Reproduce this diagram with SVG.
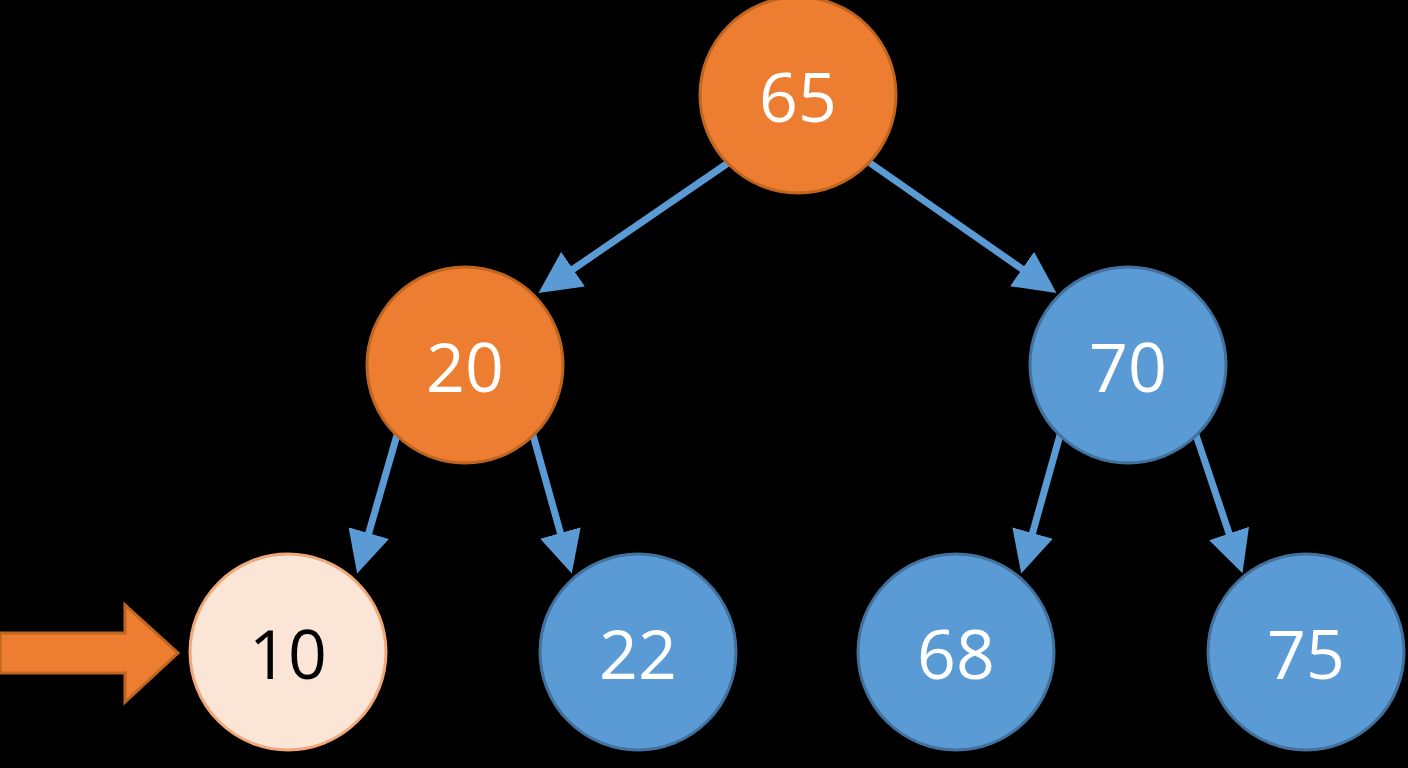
<svg xmlns="http://www.w3.org/2000/svg" width="1408" height="768" viewBox="0 0 1408 768">
<style>
.o{fill:#ED7D31;stroke:#C0651F;stroke-width:3}
.b{fill:#5B9BD5;stroke:#41719C;stroke-width:3}
.l{fill:#FBE5D6;stroke:#F0A878;stroke-width:3}
text{font-family:"Open Sans","Liberation Sans",sans-serif;font-size:68px;text-anchor:middle;dominant-baseline:central;fill:#fff}
.dk{fill:#000}
.e{stroke:#5B9BD5;stroke-width:7;fill:none;marker-end:url(#ah)}
</style>
<defs><marker id="ah" markerWidth="6" markerHeight="6" refX="4" refY="3" orient="auto" markerUnits="strokeWidth"><path d="M0,0 L6,3 L0,6 z" fill="#5B9BD5"/></marker></defs>
<rect width="1408" height="768" fill="#000"/>
<g id="connectors">
<line class="e" x1="728" y1="163" x2="550" y2="285"/>
<line class="e" x1="870" y1="163" x2="1045" y2="285"/>
<line class="e" x1="397" y1="435" x2="361" y2="560"/>
<line class="e" x1="533" y1="435" x2="568" y2="560"/>
<line class="e" x1="1060" y1="435" x2="1025" y2="560"/>
<line class="e" x1="1196" y1="435" x2="1238" y2="560"/>
</g>
<g id="pointer"><path d="M0,633 H125 V605 L178,653 L125,702 V673 H0 Z" fill="#ED7D31" stroke="#C0651F" stroke-width="3"/></g>
<g id="n65"><circle class="o" cx="798" cy="95" r="98"/><text x="798" y="95">65</text></g>
<g id="n20"><circle class="o" cx="465" cy="365" r="98"/><text x="465" y="365">20</text></g>
<g id="n70"><circle class="b" cx="1128" cy="365" r="98"/><text x="1128" y="365">70</text></g>
<g id="n10"><circle class="l" cx="288" cy="652" r="98"/><text class="dk" x="288" y="652">10</text></g>
<g id="n22"><circle class="b" cx="638" cy="652" r="98"/><text x="638" y="652">22</text></g>
<g id="n68"><circle class="b" cx="956" cy="652" r="98"/><text x="956" y="652">68</text></g>
<g id="n75"><circle class="b" cx="1306" cy="652" r="98"/><text x="1306" y="652">75</text></g>
</svg>
